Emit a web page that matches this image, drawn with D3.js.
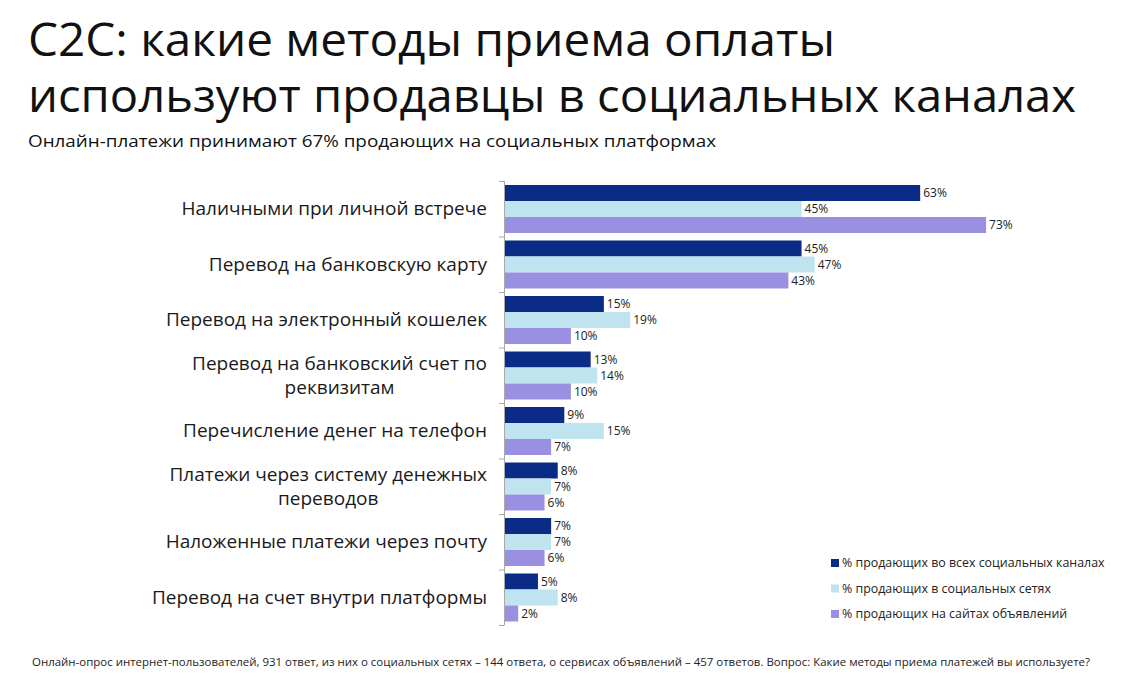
<!DOCTYPE html>
<html>
<head>
<meta charset="utf-8">
<script src="https://cdn.jsdelivr.net/npm/d3@7"></script>
<style>
  html, body { margin: 0; padding: 0; background: #ffffff; }
  svg { display: block; }
  text { font-family: "Open Sans", "Noto Sans", sans-serif; }
</style>
</head>
<body>
<svg id="chart" width="1140" height="689"></svg>
<script>
const titleLines = ["C2C: какие методы приема оплаты", "используют продавцы в социальных каналах"];
const subtitle = "Онлайн-платежи принимают 67% продающих на социальных платформах";
const footnote = "Онлайн-опрос интернет-пользователей, 931 ответ, из них о социальных сетях – 144 ответа, о сервисах объявлений – 457 ответов. Вопрос: Какие методы приема платежей вы используете?";

const categories = [
  ["Наличными при личной встрече"],
  ["Перевод на банковскую карту"],
  ["Перевод на электронный кошелек"],
  ["Перевод на банковский счет по", "реквизитам"],
  ["Перечисление денег на телефон"],
  ["Платежи через систему денежных", "переводов"],
  ["Наложенные платежи через почту"],
  ["Перевод на счет внутри платформы"]
];
const seriesNames = [
  "% продающих во всех социальных каналах",
  "% продающих в социальных сетях",
  "% продающих на сайтах объявлений"
];
const allChannels = [63, 45, 15, 13, 9, 8, 7, 5];
const socialNetworks = [45, 47, 19, 14, 15, 7, 7, 8];
const classifieds = [73, 43, 10, 10, 7, 6, 6, 2];
const colors = ["#0b2c86", "#bfe3ef", "#9a90e2"];

const seriesValues = [allChannels, socialNetworks, classifieds];
const svg = d3.select("#chart");

function fitText(sel, w) {
  const node = sel.node();
  const cur = node.getComputedTextLength();
  if (Math.abs(cur - w) > 1) sel.attr("textLength", w).attr("lengthAdjust", "spacingAndGlyphs");
}

// Title
const t1 = svg.append("text").attr("x", 28).attr("y", 56).attr("font-size", 45).attr("fill", "#111").text(titleLines[0]);
fitText(t1, 807);
const t2 = svg.append("text").attr("x", 28).attr("y", 112).attr("font-size", 45).attr("fill", "#111").text(titleLines[1]);
fitText(t2, 1048);
const st = svg.append("text").attr("x", 28).attr("y", 147).attr("font-size", 17).attr("fill", "#111").text(subtitle);
fitText(st, 688);

// Scales
const catIdx = d3.range(categories.length);
const x = d3.scaleLinear().domain([0, 100]).range([505, 1164]);
const y = d3.scaleBand().domain(catIdx).range([181, 625]).paddingInner(0).paddingOuter(0);
const yInner = d3.scaleBand().domain([0, 1, 2]).range([4, y.bandwidth() - 3.5]).padding(0);

// Axis (left, category boundaries)
const axisG = svg.append("g");
axisG.append("line").attr("x1", x(0) - 0.5).attr("x2", x(0) - 0.5).attr("y1", y.range()[0]).attr("y2", y.range()[1])
  .attr("stroke", "#a9a9a9").attr("stroke-width", 1);
const boundaries = catIdx.map(i => y(i)).concat([y.range()[1]]);
axisG.selectAll("line.tick").data(boundaries).join("line").attr("class", "tick")
  .attr("x1", x(0) - 6).attr("x2", x(0) - 0.5).attr("y1", d => d + 0.5).attr("y2", d => d + 0.5)
  .attr("stroke", "#a9a9a9").attr("stroke-width", 1);

// Bars
const groups = svg.append("g").selectAll("g").data(catIdx).join("g")
  .attr("transform", i => `translate(0,${y(i)})`);
groups.selectAll("rect").data(i => seriesValues.map((s, k) => ({k, v: s[i]}))).join("rect")
  .attr("x", x(0))
  .attr("y", d => yInner(d.k))
  .attr("width", d => x(d.v) - x(0))
  .attr("height", yInner.bandwidth())
  .attr("fill", d => colors[d.k]);
groups.selectAll("text.val").data(i => seriesValues.map((s, k) => ({k, v: s[i]}))).join("text").attr("class", "val")
  .attr("x", d => x(d.v) + 3)
  .attr("y", d => yInner(d.k) + yInner.bandwidth() / 2)
  .attr("dy", "0.35em")
  .attr("font-size", 12)
  .attr("fill", "#222")
  .text(d => d.v + "%");

// Category labels (multi-line labels: one text element with centred tspans)
const labelRight = 487;
const lineH = 24;
catIdx.forEach(i => {
  const lines = categories[i];
  const cy = y(i) + y.bandwidth() / 2;
  const txt = svg.append("text")
    .attr("font-size", 19)
    .attr("fill", "#1a1a1a");
  const spans = lines.map((ln, j) => txt.append("tspan")
    .attr("y", cy + (j - (lines.length - 1) / 2) * lineH)
    .attr("dy", "0.35em")
    .text(ln));
  if (lines.length === 1) {
    txt.attr("text-anchor", "end");
    spans[0].attr("x", labelRight);
  } else {
    txt.attr("text-anchor", "middle");
    const maxW = d3.max(spans, s => s.node().getComputedTextLength());
    spans.forEach(s => s.attr("x", labelRight - maxW / 2));
  }
});

// Legend
const legend = svg.append("g").selectAll("g").data(seriesNames).join("g")
  .attr("transform", (d, k) => `translate(831,${563 + k * 25.5})`);
legend.append("rect").attr("x", 0).attr("y", -4).attr("width", 8).attr("height", 8)
  .attr("fill", (d, k) => colors[k]);
legend.append("text").attr("x", 11).attr("y", 0).attr("dy", "0.35em").attr("font-size", 12.4)
  .attr("fill", "#222").text(d => d);

// Footnote
const fn = svg.append("text").attr("x", 32).attr("y", 666).attr("font-size", 11).attr("fill", "#222").text(footnote);
fitText(fn, 1058);
</script>
</body>
</html>
